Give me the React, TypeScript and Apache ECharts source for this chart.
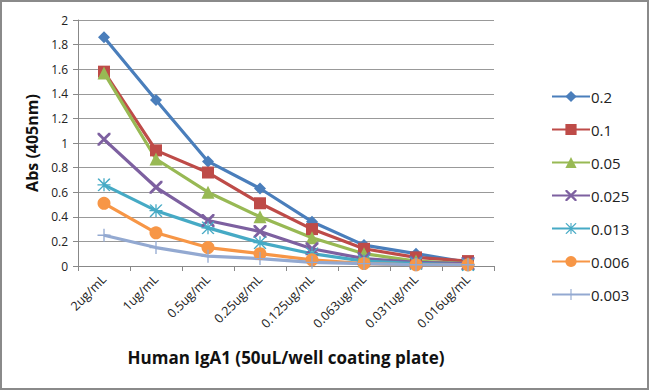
import React, { useEffect, useRef } from "react";
import * as echarts from "echarts";

const categories = ["2ug/mL", "1ug/mL", "0.5ug/mL", "0.25ug/mL", "0.125ug/mL", "0.063ug/mL", "0.031ug/mL", "0.016ug/mL"];
const seriesNames = ["0.2", "0.1", "0.05", "0.025", "0.013", "0.006", "0.003"];
const s02 = [1.86, 1.35, 0.85, 0.63, 0.36, 0.17, 0.10, 0.03];
const s01 = [1.58, 0.94, 0.76, 0.51, 0.30, 0.14, 0.07, 0.04];
const s005 = [1.57, 0.87, 0.60, 0.40, 0.23, 0.10, 0.04, 0.02];
const s0025 = [1.03, 0.64, 0.37, 0.28, 0.14, 0.06, 0.03, 0.02];
const s0013 = [0.66, 0.45, 0.31, 0.19, 0.10, 0.04, 0.02, 0.01];
const s0006 = [0.51, 0.27, 0.15, 0.10, 0.05, 0.02, 0.01, 0.01];
const s0003 = [0.25, 0.15, 0.08, 0.06, 0.03, 0.02, 0.01, 0.01];
const seriesData = [s02, s01, s005, s0025, s0013, s0006, s0003];

const colors = ["#4A7EBB", "#BE4B48", "#98B954", "#7D60A0", "#46AAC5", "#F79646", "#93A9D1"];
const xPath = "path://M0,0 L3,0 L10,7 L17,0 L20,0 L20,3 L13,10 L20,17 L20,20 L17,20 L10,13 L3,20 L0,20 L0,17 L7,10 L0,3Z";
const starPath = "path://M0,1 L2,0 L9,7 L9,0 L11,0 L11,7 L18,0 L20,1 L12,9 L20,9 L20,11 L12,11 L20,19 L18,20 L11,13 L11,20 L9,20 L9,13 L2,20 L0,19 L8,11 L0,11 L0,9 L8,9Z";
const plusPath = "path://M9,0 L11,0 L11,9 L20,9 L20,11 L11,11 L11,20 L9,20 L9,11 L0,11 L0,9 L9,9Z";
const symbols = ["diamond", "rect", "triangle", xPath, starPath, "circle", plusPath];
const symbolSizes = [12, 12, 13, 13, 13, 13, 13];

export default function App() {
  const ref = useRef<HTMLDivElement>(null);
  useEffect(() => {
    document.body.style.margin = "0";
    const chart = echarts.init(ref.current!, null, { renderer: "svg" });
    chart.setOption({
      animation: false,
      backgroundColor: "#ffffff",
      textStyle: { fontFamily: "Open Sans, Noto Sans, sans-serif" },
      graphic: [
        {
          type: "rect",
          shape: { x: 1, y: 1, width: 647, height: 388 },
          style: { fill: "none", stroke: "#8a8a8a", lineWidth: 2 },
          silent: true,
        },
      ],
      grid: { left: 78, right: 156, top: 20, bottom: 125 },
      legend: {
        orient: "vertical",
        left: 546,
        top: 84,
        itemGap: 18,
        itemWidth: 38,
        itemHeight: 14,
        textStyle: { fontSize: 15, color: "#222", padding: [0, 0, 0, -4] },
        data: seriesNames,
      },
      xAxis: {
        type: "category",
        data: categories,
        boundaryGap: true,
        axisLine: { lineStyle: { color: "#888", width: 1 } },
        axisTick: { show: true, length: 5, lineStyle: { color: "#888" } },
        axisLabel: { rotate: 45, fontSize: 12.5, color: "#222", margin: 11 },
        name: "Human IgA1 (50uL/well coating plate)",
        nameLocation: "middle",
        nameGap: 83,
        nameTextStyle: { fontSize: 17, fontWeight: "bold", color: "#111" },
      },
      yAxis: {
        type: "value",
        min: 0,
        max: 2,
        interval: 0.2,
        axisLine: { show: true, lineStyle: { color: "#888" } },
        axisTick: { show: true, length: 5, lineStyle: { color: "#888" } },
        splitLine: { lineStyle: { color: "#999", width: 1 } },
        axisLabel: { fontSize: 12, color: "#222", margin: 10, formatter: (v: number) => String(Math.round(v * 10) / 10) },
        name: "Abs (405nm)",
        nameLocation: "middle",
        nameGap: 36,
        nameTextStyle: { fontSize: 16, fontWeight: "bold", color: "#111" },
      },
      series: seriesNames.map((n, i) => ({
        name: n,
        type: "line",
        data: seriesData[i],
        symbol: symbols[i],
        symbolSize: symbolSizes[i],
        showAllSymbol: true,
        color: colors[i],
        lineStyle: { width: 3.2, color: colors[i] },
        itemStyle: { color: colors[i] },
      })),
    });
    return () => chart.dispose();
  }, []);
  return <div ref={ref} style={{ width: 650, height: 391, position: "absolute", left: 0, top: 0 }} />;
}
